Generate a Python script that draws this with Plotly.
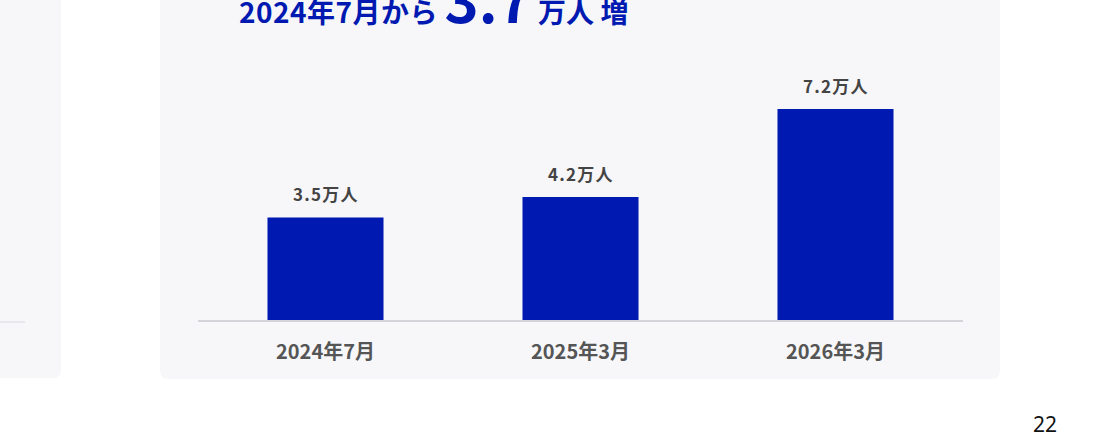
import plotly.graph_objects as go

# data
periods = ["2024年7月", "2025年3月", "2026年3月"]
users_man = [3.5, 4.2, 7.2]
value_labels = ["3.5万人", "4.2万人", "7.2万人"]
headline_from = "2024年7月から"
headline_delta = "3.7"
page_no = "22"

W, H = 1112, 438
L, R, T, B = 198, 149, 80, 118
PW, PH = W - L - R, H - T - B

BLUE = "#0019B0"
CARD = "#F7F7FA"
JP = "Noto Sans CJK JP"


def px(x):
    return (x - L) / PW


def py(y):
    return (H - B - y) / PH


def round_rect(x0, y0, x1, y1, r):
    # rounded rectangle path, pixel coords -> paper coords
    pts = [
        f"M {px(x0 + r)},{py(y0)}",
        f"L {px(x1 - r)},{py(y0)}",
        f"Q {px(x1)},{py(y0)} {px(x1)},{py(y0 + r)}",
        f"L {px(x1)},{py(y1 - r)}",
        f"Q {px(x1)},{py(y1)} {px(x1 - r)},{py(y1)}",
        f"L {px(x0 + r)},{py(y1)}",
        f"Q {px(x0)},{py(y1)} {px(x0)},{py(y1 - r)}",
        f"L {px(x0)},{py(y0 + r)}",
        f"Q {px(x0)},{py(y0)} {px(x0 + r)},{py(y0)}",
        "Z",
    ]
    return " ".join(pts)


fig = go.Figure()
fig.add_trace(
    go.Bar(
        x=periods,
        y=users_man,
        marker=dict(color=BLUE, line=dict(width=0)),
        hoverinfo="skip",
    )
)

# value labels above bars
for p, v, lab in zip(periods, users_man, value_labels):
    fig.add_annotation(
        x=p, y=v, text=f"<b><span style='letter-spacing:1.2px'>{lab}</span></b>",
        showarrow=False, xanchor="center", yanchor="bottom", yshift=9,
        font=dict(family=JP, size=17, color="#444444"),
    )

# headline (cut off at the top of the view)
fig.add_annotation(
    xref="paper", yref="paper", x=px(237), y=py(42),
    xanchor="left", yanchor="bottom", showarrow=False,
    text=(f"<b><span style='letter-spacing:0.5px'>{headline_from}</span> "
          f"<span style='font-size:58px'>{headline_delta}</span>"
          f" 万人 増</b>"),
    font=dict(family=JP, size=28, color=BLUE),
)

# page number
fig.add_annotation(
    xref="paper", yref="paper", x=px(1045), y=py(424),
    xanchor="center", yanchor="middle", showarrow=False,
    text=page_no, font=dict(family="Noto Sans", size=21, color="#111111"),
)

shapes = [
    # left card (partly visible)
    dict(type="path", xref="paper", yref="paper", layer="below",
         path=round_rect(-60, -60, 61, 378, 8), fillcolor=CARD, line_width=0),
    dict(type="line", xref="paper", yref="paper", layer="below",
         x0=px(0), x1=px(25), y0=py(322), y1=py(322),
         line=dict(color="#D9D9DE", width=1)),
    # main card
    dict(type="path", xref="paper", yref="paper", layer="below",
         path=round_rect(160, -60, 1000, 379, 9), fillcolor=CARD, line_width=0),
]

fig.update_layout(
    width=W, height=H,
    margin=dict(l=L, r=R, t=T, b=B, pad=0),
    paper_bgcolor="white",
    plot_bgcolor="rgba(0,0,0,0)",
    showlegend=False,
    bargap=0.545,
    shapes=shapes,
    font=dict(family=JP),
)
fig.update_xaxes(
    showgrid=False, zeroline=False,
    showline=True, linecolor="#D4D4DA", linewidth=2,
    ticks="", ticklabelstandoff=13,
    tickfont=dict(family=JP, size=20, color="#555555", weight="bold"),
)
fig.update_yaxes(
    range=[0, PH / 29.3], visible=False, showgrid=False, zeroline=False,
)

fig.write_html(
    "out.html",
    config={"displayModeBar": False},
    post_script="document.body.style.margin='0';",
)
